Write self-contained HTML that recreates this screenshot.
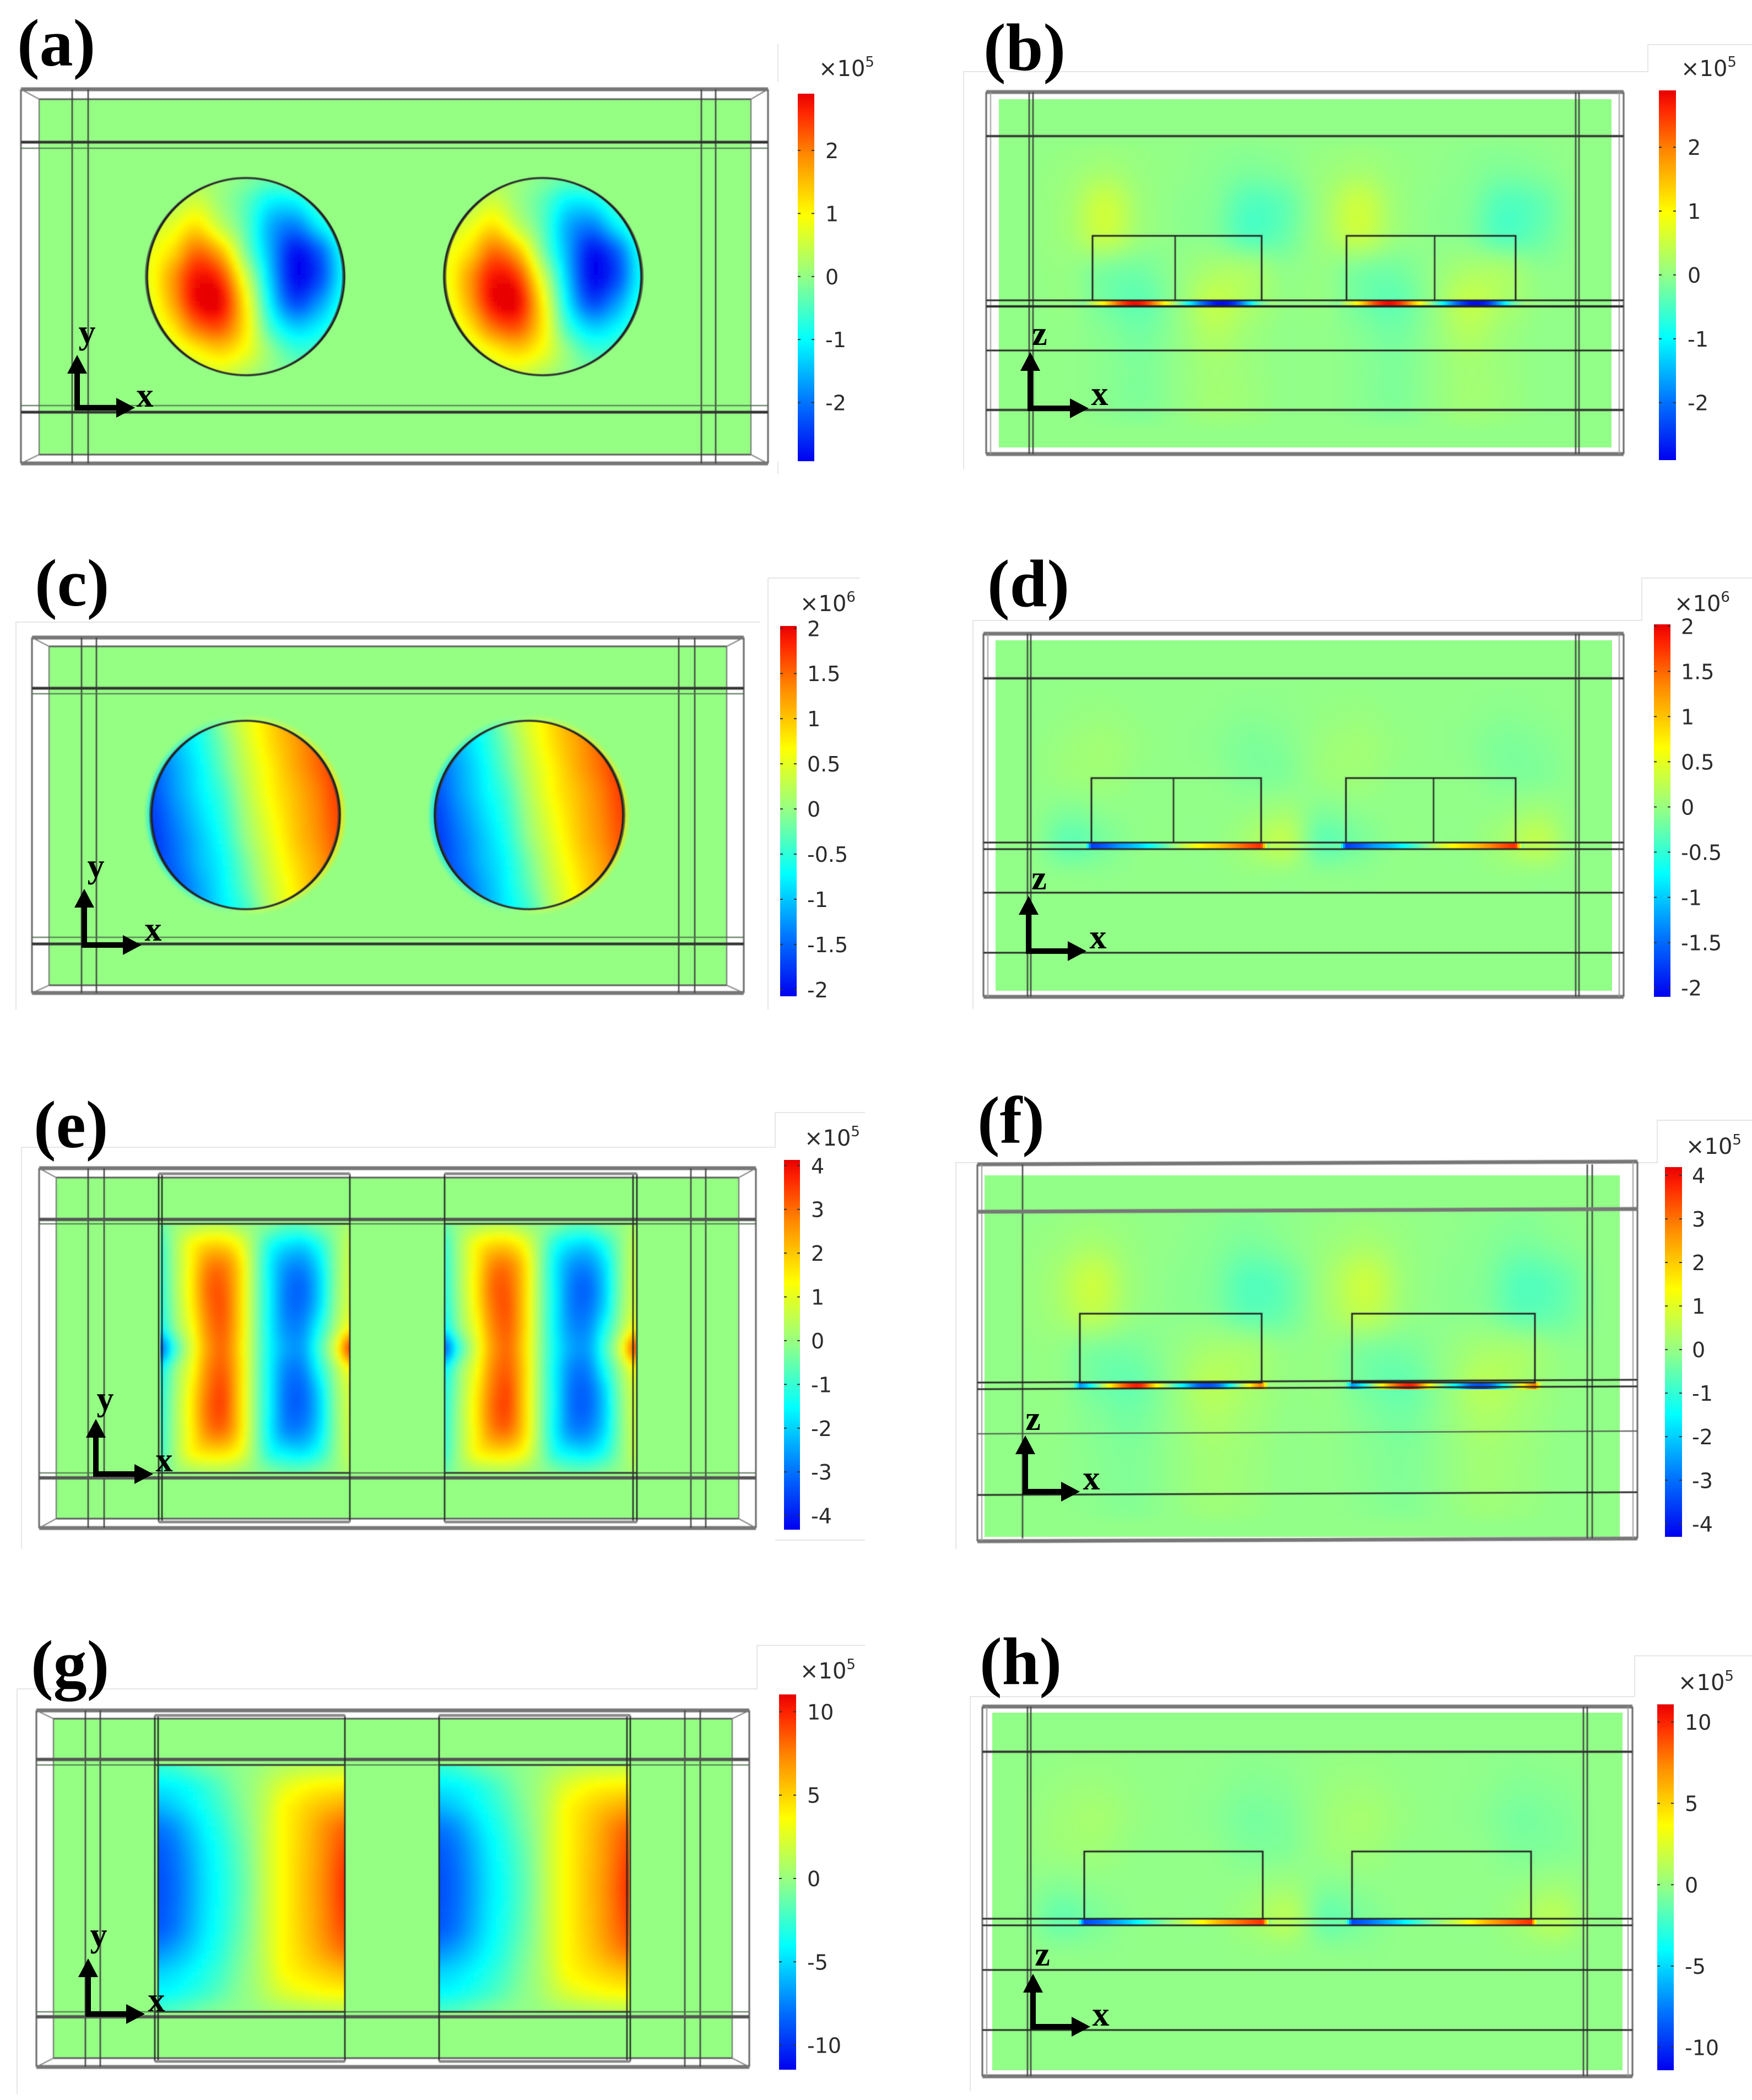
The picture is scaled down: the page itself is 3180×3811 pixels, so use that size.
<!DOCTYPE html>
<html lang="en">
<head>
<meta charset="utf-8">
<title>Field distribution panels (a)–(h)</title>
<style>
  html, body { margin: 0; padding: 0; background: #ffffff; }
  #stage { display: block; width: 3180px; height: 3811px; }
  .tick-label { font-family: "DejaVu Sans", "Liberation Sans", sans-serif; font-size: 38px; fill: #2b2b2b; }
  .exp-label { font-family: "DejaVu Sans", "Liberation Sans", sans-serif; font-size: 40px; fill: #2b2b2b; }
  .panel-label { font-family: "Liberation Serif", serif; font-weight: 700; font-size: 122px; fill: #000; }
  .axis-label { font-family: "Liberation Serif", serif; font-weight: 700; font-size: 62px; fill: #000; text-anchor: middle; }
</style>
</head>
<body>
<svg id="stage" xmlns="http://www.w3.org/2000/svg" width="3180" height="3811" viewBox="0 0 3180 3811">
  <defs>
    <filter id="soft4" x="-5%" y="-5%" width="110%" height="110%"><feGaussianBlur stdDeviation="4"/></filter>
    <filter id="soft8" x="-5%" y="-5%" width="110%" height="110%"><feGaussianBlur stdDeviation="8"/></filter>
    <filter id="wire-soft" filterUnits="userSpaceOnUse" x="0" y="0" width="3180" height="3811"><feGaussianBlur stdDeviation="0.8"/></filter>
    <filter id="halo-blur" x="-15%" y="-15%" width="130%" height="130%"><feGaussianBlur stdDeviation="4"/></filter>
    <linearGradient id="halo-gradient" x1="0" y1="0" x2="1" y2="0">
      <stop offset="0" stop-color="#00e8ff"/>
      <stop offset="0.3" stop-color="#60ffc0"/>
      <stop offset="0.55" stop-color="#c0ff60"/>
      <stop offset="1" stop-color="#ffe000"/>
    </linearGradient>
  </defs>
</svg>
<script>
// Colour scale: position on the colour bar (-1..1) and colour
const colorPositions = [-1, -0.67, -0.34, 0, 0.34, 0.67, 0.9, 1];
const colorValues = ['#0000f0', '#0078ff', '#00ffff', '#92ff88', '#ffff00', '#ff8800', '#ff2400', '#e80000'];

// Colour bar tick values
const ticksA = [2, 1, 0, -1, -2];
const ticksB = [2, 1, 0, -1, -2];
const ticksC = [2, 1.5, 1, 0.5, 0, -0.5, -1, -1.5, -2];
const ticksD = [2, 1.5, 1, 0.5, 0, -0.5, -1, -1.5, -2];
const ticksE = [4, 3, 2, 1, 0, -1, -2, -3, -4];
const ticksF = [4, 3, 2, 1, 0, -1, -2, -3, -4];
const ticksG = [10, 5, 0, -5, -10];
const ticksH = [10, 5, 0, -5, -10];

// Disc field values: rows top to bottom, columns left to right, across the disc
const fieldDiscA = [
  [0, 0, 0.2, 0.1, -0.1, -0.3, -0.2, 0, 0],
  [0.2, 0.3, 0.6, 0.1, -0.4, -1.1, -1.1, -0.5, -0.1],
  [0.5, 0.8, 1.3, 0.5, -0.4, -1.6, -2.0, -1.2, -0.5],
  [0.8, 1.3, 2.2, 1.6, -0.1, -1.6, -2.8, -2.2, -0.9],
  [0.8, 1.8, 2.8, 2.5, 0.6, -1.4, -2.9, -2.4, -1.0],
  [0.7, 1.7, 2.9, 2.9, 1.1, -1.1, -2.4, -1.8, -0.8],
  [0.5, 1.2, 2.2, 2.4, 1.2, -0.6, -1.4, -1.1, -0.5],
  [0.3, 0.6, 1.1, 1.4, 0.9, 0, -0.6, -0.5, -0.2],
  [0, 0.2, 0.5, 0.6, 0.3, 0, -0.1, 0, 0]
];
const fieldDiscC = [
  [-1.4, -1.0, -0.6, 0, 0.5, 0.9, 1.3, 1.6, 1.8],
  [-1.45, -1.05, -0.65, -0.15, 0.4, 0.85, 1.2, 1.55, 1.8],
  [-1.55, -1.15, -0.75, -0.25, 0.3, 0.75, 1.15, 1.5, 1.8],
  [-1.6, -1.2, -0.8, -0.4, 0.2, 0.7, 1.05, 1.4, 1.75],
  [-1.7, -1.3, -0.9, -0.5, 0.1, 0.6, 1.0, 1.35, 1.7],
  [-1.75, -1.4, -1.0, -0.6, 0, 0.5, 0.95, 1.3, 1.65],
  [-1.75, -1.45, -1.05, -0.7, -0.15, 0.4, 0.85, 1.2, 1.6],
  [-1.75, -1.55, -1.15, -0.75, -0.25, 0.3, 0.75, 1.15, 1.5],
  [-1.75, -1.6, -1.2, -0.8, -0.4, 0.2, 0.7, 1.05, 1.4]
];

// Rectangular patch field values: rows top to bottom, columns left to right
const fieldPatchE = [
  [-0.4, 0.1, 0.3, 0.5, 0.5, 0.2, 0, -0.2, -0.5, -0.5, -0.2, 0, 0.3],
  [-0.8, 0.3, 1.4, 1.9, 1.9, 1.3, 0, -1.2, -1.7, -1.8, -1.2, -0.2, 0.6],
  [-0.9, 0.3, 1.6, 2.8, 2.9, 1.9, 0, -1.6, -2.5, -2.6, -1.8, -0.3, 0.7],
  [-1.0, 0.3, 1.7, 3.1, 3.2, 2.0, 0, -1.6, -2.8, -3.0, -2.0, -0.3, 0.8],
  [-1.1, 0.2, 1.6, 3.0, 3.3, 2.0, 0, -1.6, -2.8, -2.9, -1.9, -0.2, 0.9],
  [-1.5, 0, 1.3, 2.8, 3.2, 2.0, 0, -1.6, -2.6, -2.6, -1.4, 0.1, 1.5],
  [-3.0, -0.8, 1.0, 2.6, 3.1, 1.9, 0, -1.5, -2.4, -2.4, -1.0, 0.8, 3.5],
  [-1.5, 0, 1.3, 2.8, 3.2, 2.0, 0, -1.6, -2.7, -2.7, -1.4, 0.1, 1.5],
  [-1.1, 0.2, 1.6, 3.0, 3.4, 2.0, 0, -1.6, -2.9, -3.0, -1.9, -0.2, 0.9],
  [-1.0, 0.3, 1.7, 3.1, 3.4, 2.0, 0, -1.6, -2.9, -3.0, -2.0, -0.3, 0.8],
  [-0.9, 0.3, 1.6, 2.8, 3.0, 1.9, 0, -1.6, -2.6, -2.6, -1.8, -0.3, 0.7],
  [-0.8, 0.3, 1.4, 1.8, 1.8, 1.3, 0, -1.2, -1.6, -1.7, -1.2, -0.2, 0.6],
  [-0.4, 0.1, 0.3, 0.4, 0.4, 0.2, 0, -0.2, -0.4, -0.4, -0.2, 0, 0.3]
];
const fieldPatchG = [
  [-2.5, -2.2, -1.6, -1.0, -0.6, -0.2, 0.1, 0.6, 1.0, 1.3, 1.5, 1.6, 1.7],
  [-4.2, -4.0, -3.4, -2.6, -1.6, -0.5, 0.3, 1.4, 2.6, 3.4, 3.9, 4.1, 4.3],
  [-5.8, -5.2, -4.3, -3.3, -2.2, -0.9, 0.3, 1.8, 3.7, 4.6, 5.4, 6.0, 6.5],
  [-7.5, -6.8, -5.4, -4.0, -2.8, -1.3, 0.1, 2.0, 3.8, 5.0, 6.2, 7.5, 8.4],
  [-8.4, -7.6, -6.1, -4.5, -3.2, -1.7, -0.1, 2.0, 3.8, 5.1, 6.4, 7.9, 9.1],
  [-8.7, -7.9, -6.4, -4.7, -3.4, -1.9, -0.2, 2.0, 3.8, 5.2, 6.5, 8.1, 9.6],
  [-8.8, -8.0, -6.5, -4.8, -3.5, -2.0, -0.3, 2.0, 3.8, 5.2, 6.6, 8.2, 9.8],
  [-8.7, -7.9, -6.4, -4.7, -3.4, -1.9, -0.2, 2.0, 3.8, 5.2, 6.5, 8.1, 9.6],
  [-8.4, -7.6, -6.1, -4.5, -3.2, -1.7, -0.1, 2.0, 3.8, 5.1, 6.4, 7.9, 9.1],
  [-7.0, -6.3, -5.2, -4.0, -2.8, -1.3, 0.1, 2.0, 3.8, 4.9, 6.0, 7.2, 8.2],
  [-5.2, -4.8, -4.1, -3.2, -2.2, -0.9, 0.3, 1.8, 3.6, 4.4, 5.0, 5.6, 6.1],
  [-3.9, -3.7, -3.1, -2.4, -1.5, -0.5, 0.3, 1.4, 2.5, 3.2, 3.6, 3.9, 4.1],
  [-2.0, -1.8, -1.3, -0.8, -0.4, -0.1, 0.1, 0.5, 0.8, 1.0, 1.2, 1.4, 1.5]
];

// Field along the thin interface under each block (left to right)
const stripB = [0.4, 1.3, 2.4, 2.9, 2.4, 1.2, 0, -1.2, -2.3, -2.9, -2.6, -1.4, -0.2];
const stripD = [-1.7, -1.5, -1.2, -1.0, -0.7, -0.3, 0.1, 0.5, 0.8, 1.0, 1.3, 1.6, 1.8];
const stripF = [-2.5, -0.8, 1.5, 3.3, 3.8, 1.6, -0.3, -1.8, -3.2, -3.0, -1.2, 1.0, 3.0];
const stripH = [-9, -8, -6.5, -5, -3, -1, 0.5, 2, 4, 6, 7.5, 8.8, 9.8];

// Weak field surrounding each block: rows from above the block to below the interface
const haloB = [
  [0, 0.02, 0.05, 0.02, 0, -0.03, -0.05, -0.02, 0],
  [0.02, 0.08, 0.18, 0.06, 0, -0.06, -0.15, -0.1, 0],
  [0.03, 0.15, 0.55, 0.12, -0.03, -0.1, -0.45, -0.35, -0.03],
  [0.03, 0.15, 0.5, 0.1, -0.03, -0.1, -0.45, -0.3, -0.03],
  [0.02, 0.03, -0.15, -0.2, 0, 0.2, 0.2, -0.03, 0],
  [0, 0.03, -0.22, -0.35, 0, 0.45, 0.25, 0.03, 0],
  [0, 0, -0.1, -0.22, 0, 0.3, 0.12, 0, 0],
  [0, 0, -0.06, -0.14, 0, 0.16, 0.08, 0, 0],
  [0, 0, -0.06, -0.14, 0, 0.16, 0.1, 0, 0],
  [0, 0, -0.03, -0.07, 0, 0.08, 0.05, 0, 0]
];
const haloD = [
  [0, 0.01, 0.01, 0, 0, 0, -0.01, -0.01, 0],
  [0, 0.02, 0.04, 0.01, 0, -0.01, -0.04, -0.02, 0],
  [0.01, 0.06, 0.1, 0.03, 0, -0.03, -0.1, -0.07, -0.01],
  [0.01, 0.06, 0.08, 0.01, 0, -0.01, -0.08, -0.08, -0.01],
  [0, -0.08, -0.02, 0, 0, 0, 0.02, 0.1, 0],
  [0, -0.25, -0.12, 0, 0, 0, 0.12, 0.3, 0],
  [0, -0.02, -0.02, 0, 0, 0, 0.02, 0.02, 0],
  [0, 0, 0, 0, 0, 0, 0, 0, 0],
  [0, 0, 0, 0, 0, 0, 0, 0, 0],
  [0, 0, 0, 0, 0, 0, 0, 0, 0]
];
const haloF = [
  [0, 0.03, 0.08, 0.03, 0, -0.05, -0.1, -0.04, 0],
  [0.03, 0.12, 0.28, 0.08, -0.02, -0.1, -0.25, -0.12, 0],
  [0.05, 0.25, 0.75, 0.15, -0.05, -0.15, -0.6, -0.45, -0.03],
  [0.05, 0.22, 0.6, 0.1, -0.05, -0.12, -0.5, -0.4, -0.03],
  [0.02, 0.04, -0.2, -0.25, 0, 0.25, 0.25, 0, 0],
  [0, 0.03, -0.3, -0.45, 0, 0.5, 0.3, 0.05, 0],
  [0, 0.02, -0.15, -0.3, 0, 0.35, 0.2, 0.02, 0],
  [0, 0, -0.1, -0.18, 0, 0.22, 0.14, 0, 0],
  [0, 0, -0.08, -0.16, 0, 0.2, 0.12, 0, 0],
  [0, 0, -0.05, -0.1, 0, 0.12, 0.08, 0, 0]
];
const haloH = [
  [0, 0.05, 0.1, 0.05, 0, -0.05, -0.1, -0.05, 0],
  [0.05, 0.25, 0.35, 0.1, 0, -0.1, -0.35, -0.25, -0.05],
  [0.1, 0.45, 0.7, 0.2, 0, -0.2, -0.7, -0.5, -0.1],
  [0.1, 0.35, 0.45, 0.05, 0, -0.05, -0.45, -0.4, -0.1],
  [0, -0.35, -0.08, 0, 0, 0, 0.08, 0.45, 0],
  [0, -1.2, -0.5, 0, 0, 0, 0.5, 1.4, 0],
  [0, -0.1, -0.1, 0, 0, 0, 0.1, 0.15, 0],
  [0, 0, 0, 0, 0, 0, 0, 0, 0],
  [0, 0, 0, 0, 0, 0, 0, 0, 0],
  [0, 0, 0, 0, 0, 0, 0, 0, 0]
];

// Layout of each panel (page geometry only; field values live in the arrays above)
const panels = [
  { id: 'a', label: '(a)', lx: 31, ly: 119, limit: 3, outer: [38, 162, 1394, 841], green: [71, 180, 1363, 825],
    vs: [131, 160, 1273, 1299], hs: [[258, 5, '#333'], [269, 2, '#4a6a4a'], [736, 2, '#4a6a4a'], [748, 5, '#333']], diag: true,
    discs: [[446, 502], [985, 502]], discR: 179, discField: fieldDiscA,
    bar: { x: 1448, w: 30, top: 170, bot: 837, hi: 2.9, lo: -2.93, ticks: ticksA, lx: 1498, ex: 1486, ey: 124, exp: '5' },
    triad: { x: 140, y: 740, up: 644, right: 245, vn: 'y', vx: 158, vy: 615, hx: 263, hy: 724 },
    frame: 'M 1412 80 L 1412 148 M 1412 838 L 1412 860' },
  { id: 'b', label: '(b)', lx: 1785, ly: 127, limit: 3, outer: [1790, 167, 2947, 824], green: [1813, 180, 2925, 812],
    vs: [1868, 1875, 2860, 2866], hs: [[247, 4, '#333'], [545, 3, '#222'], [556, 4, '#222'], [636, 3, '#222'], [744, 4, '#333']], diag: false,
    blocks: [[1983, 2290, 2133], [2444, 2751, 2604]], blockTop: 428, blockBot: 545, stripTop: 545, stripBot: 556, strip: stripB, halo: haloB,
    bar: { x: 3011, w: 31, top: 164, bot: 835, hi: 2.89, lo: -2.9, ticks: ticksB, lx: 3063, ex: 3051, ey: 124, exp: '5' },
    triad: { x: 1870, y: 741, up: 639, right: 1976, vn: 'z', vx: 1887, vy: 612, hx: 1996, hy: 721 },
    frame: 'M 1749 851 L 1749 130 L 2991 130 L 2991 81 L 3180 81' },
  { id: 'c', label: '(c)', lx: 63, ly: 1099, limit: 2.05, outer: [58, 1157, 1350, 1802], green: [89, 1173, 1319, 1788],
    vs: [148, 175, 1232, 1261], hs: [[1249, 5, '#333'], [1259, 2, '#4a6a4a'], [1701, 2, '#4a6a4a'], [1713, 5, '#333']], diag: true,
    discs: [[446, 1479], [960, 1479]], discR: 171, discField: fieldDiscC, glow: true,
    bar: { x: 1416, w: 30, top: 1136, bot: 1808, hi: 2.026, lo: -2.074, ticks: ticksC, lx: 1465, ex: 1452, ey: 1095, exp: '6' },
    triad: { x: 153, y: 1715, up: 1613, right: 257, vn: 'y', vx: 174, vy: 1584, hx: 278, hy: 1693 },
    frame: 'M 29 1832 L 29 1129 L 1380 1129 M 1394 1049 L 1394 1832 M 1394 1049 L 1560 1049' },
  { id: 'd', label: '(d)', lx: 1792, ly: 1100, limit: 2.05, outer: [1785, 1150, 2947, 1809], green: [1807, 1162, 2926, 1798],
    vs: [1865, 1871, 2860, 2866], hs: [[1231, 4, '#333'], [1529, 3, '#222'], [1541, 3, '#222'], [1620, 3, '#222'], [1729, 3, '#222']], diag: false,
    blocks: [[1981, 2289, 2130], [2443, 2751, 2602]], blockTop: 1412, blockBot: 1529, stripTop: 1529, stripBot: 1541, strip: stripD, halo: haloD,
    bar: { x: 3002, w: 30, top: 1133, bot: 1809, hi: 2.02, lo: -2.1, ticks: ticksD, lx: 3051, ex: 3039, ey: 1095, exp: '6' },
    triad: { x: 1867, y: 1726, up: 1626, right: 1972, vn: 'z', vx: 1886, vy: 1600, hx: 1993, hy: 1707 },
    frame: 'M 1766 1831 L 1766 1126 L 2980 1126 L 2980 1049 L 3180 1049' },
  { id: 'e', label: '(e)', lx: 61, ly: 2082, limit: 4.25, outer: [71, 2120, 1372, 2773], green: [102, 2137, 1341, 2756],
    vs: [160, 189, 1254, 1281], hs: [[2213, 6, '#555'], [2221, 2, '#4a6a4a'], [2673, 2, '#4a6a4a'], [2682, 6, '#555']], diag: true,
    patches: [[291, 635], [807, 1154]], patchTop: 2221, patchBot: 2673, patchField: fieldPatchE,
    patchLines: [[288, 294, 635], [807, 1149, 1156]], capTop: 2130, capBot: 2762,
    bar: { x: 1423, w: 29, top: 2105, bot: 2776, hi: 4.13, lo: -4.32, ticks: ticksE, lx: 1472, ex: 1460, ey: 2065, exp: '5' },
    triad: { x: 174, y: 2675, up: 2575, right: 278, vn: 'y', vx: 191, vy: 2551, hx: 298, hy: 2656 },
    frame: 'M 39 2811 L 39 2082 L 1407 2082 L 1407 2019 L 1570 2019 M 1407 2795 L 1570 2795' },
  { id: 'f', label: '(f)', lx: 1774, ly: 2074, limit: 4.25, outer: [1774, 2113, 2972, 2797], green: [1787, 2133, 2940, 2789], tilt: -5,
    vs: [1856, 2881, 2890], hs: [[2199, 7, '#777'], [2509, 3, '#222'], [2521, 3, '#222'], [2602, 2, '#444'], [2713, 3, '#222']], diag: false,
    blocks: [[1960, 2290, 0], [2454, 2786, 0]], blockTop: 2384, blockBot: 2509, stripTop: 2509, stripBot: 2521, strip: stripF, halo: haloF,
    bar: { x: 3022, w: 31, top: 2118, bot: 2789, hi: 4.19, lo: -4.3, ticks: ticksF, lx: 3071, ex: 3060, ey: 2080, exp: '5' },
    triad: { x: 1861, y: 2707, up: 2605, right: 1960, vn: 'z', vx: 1875, vy: 2581, hx: 1981, hy: 2689 },
    frame: 'M 1735 2811 L 1735 2110 L 3008 2110 L 3008 2033 L 3180 2033' },
  { id: 'g', label: '(g)', lx: 56, ly: 3061, limit: 11.3, outer: [66, 3104, 1360, 3751], green: [97, 3119, 1329, 3735],
    vs: [155, 182, 1243, 1271], hs: [[3193, 6, '#555'], [3203, 2, '#4a6a4a'], [3651, 2, '#4a6a4a'], [3660, 6, '#555']], diag: true,
    patches: [[286, 626], [797, 1142]], patchTop: 3203, patchBot: 3651, patchField: fieldPatchG,
    patchLines: [[281, 287, 626], [797, 1138, 1144]], capTop: 3113, capBot: 3741,
    bar: { x: 1414, w: 31, top: 3075, bot: 3756, hi: 11.04, lo: -11.47, ticks: ticksG, lx: 1465, ex: 1452, ey: 3032, exp: '5' },
    triad: { x: 160, y: 3655, up: 3554, right: 263, vn: 'y', vx: 179, vy: 3524, hx: 284, hy: 3636 },
    frame: 'M 31 3800 L 31 3065 L 1374 3065 L 1374 2986 L 1570 2986' },
  { id: 'h', label: '(h)', lx: 1778, ly: 3056, limit: 11.3, outer: [1783, 3097, 2963, 3768], green: [1801, 3108, 2945, 3757],
    vs: [1865, 1871, 2874, 2881], hs: [[3179, 4, '#333'], [3482, 3, '#222'], [3494, 3, '#222'], [3575, 3, '#222'], [3684, 3, '#222']], diag: false,
    blocks: [[1968, 2292, 0], [2454, 2779, 0]], blockTop: 3360, blockBot: 3482, stripTop: 3482, stripBot: 3494, strip: stripH, halo: haloH,
    bar: { x: 3008, w: 30, top: 3093, bot: 3757, hi: 11.08, lo: -11.4, ticks: ticksH, lx: 3058, ex: 3046, ey: 3053, exp: '5' },
    triad: { x: 1875, y: 3678, up: 3582, right: 1979, vn: 'z', vx: 1892, vy: 3553, hx: 1998, hy: 3662 },
    frame: 'M 1761 3795 L 1761 3079 L 2967 3079 L 2967 3005 L 3180 3005' }
];

const SVGNS = 'http://www.w3.org/2000/svg';
const stage = document.getElementById('stage');
const defs = stage.querySelector('defs');

function hexToRgb(h) {
  return [parseInt(h.slice(1, 3), 16), parseInt(h.slice(3, 5), 16), parseInt(h.slice(5, 7), 16)];
}
const colorRgb = colorValues.map(hexToRgb);

function fieldColor(t) {
  const c = Math.max(-1, Math.min(1, t));
  let i = 0;
  while (i < colorPositions.length - 2 && c > colorPositions[i + 1]) i++;
  const f = (c - colorPositions[i]) / (colorPositions[i + 1] - colorPositions[i]);
  const a = colorRgb[i], b = colorRgb[i + 1];
  return 'rgb(' + Math.round(a[0] + (b[0] - a[0]) * f) + ',' + Math.round(a[1] + (b[1] - a[1]) * f) + ',' + Math.round(a[2] + (b[2] - a[2]) * f) + ')';
}

function spline(p0, p1, p2, p3, t) {
  return 0.5 * (2 * p1 + (p2 - p0) * t + (2 * p0 - 5 * p1 + 4 * p2 - p3) * t * t + (3 * p1 - p0 - 3 * p2 + p3) * t * t * t);
}
function sampleLine(arr, c) {
  const n = arr.length - 1;
  const cc = Math.max(0, Math.min(n, c));
  const i = Math.min(n - 1, Math.floor(cc));
  return spline(arr[Math.max(0, i - 1)], arr[i], arr[i + 1], arr[Math.min(n, i + 2)], cc - i);
}
function sampleGrid(grid, cx, cy) {
  const n = grid.length - 1;
  const cc = Math.max(0, Math.min(n, cy));
  const j = Math.min(n - 1, Math.floor(cc));
  const v0 = sampleLine(grid[Math.max(0, j - 1)], cx);
  const v1 = sampleLine(grid[j], cx);
  const v2 = sampleLine(grid[j + 1], cx);
  const v3 = sampleLine(grid[Math.min(n, j + 2)], cx);
  return spline(v0, v1, v2, v3, cc - j);
}

function el(tag, attrs, parent) {
  const e = document.createElementNS(SVGNS, tag);
  for (const k in attrs) e.setAttribute(k, attrs[k]);
  if (parent) parent.appendChild(e);
  return e;
}

function addCell(parent, x, y, w, h, fill) {
  const cell = document.createElementNS(SVGNS, 'rect');
  cell.setAttribute('x', x);
  cell.setAttribute('y', y);
  cell.setAttribute('width', w);
  cell.setAttribute('height', h);
  cell.setAttribute('fill', fill);
  
  
  parent.appendChild(cell);
}

function drawLine(parent, name, x1, y1, x2, y2, stroke, width) {
  const line = el('line', { x1: x1, y1: y1, x2: x2, y2: y2, stroke: stroke, 'stroke-width': width }, parent);
  
  
  return line;
}

function drawPanel(p) {
  const g = el('g', {}, stage);
  
  

  const frame = el('path', { d: p.frame, fill: 'none', stroke: '#e6e6e6', 'stroke-width': 2 }, g);
  
  

  const [gx0, gy0, gx1, gy1] = p.green;
  const greenRect = el('rect', { x: gx0, y: gy0, width: gx1 - gx0, height: gy1 - gy0, fill: fieldColor(0.01) }, g);
  
  

  const clipId = 'clip-green-' + p.id;
  const clip = el('clipPath', { id: clipId }, defs);
  el('rect', { x: gx0, y: gy0, width: gx1 - gx0, height: gy1 - gy0 }, clip);

  if (p.halo) drawHalo(p, g, clipId);
  if (p.discs) p.discs.forEach((c, i) => drawDisc(p, g, c, i));
  if (p.patches) p.patches.forEach((r, i) => drawPatch(p, g, r, i));
  if (p.strip) p.blocks.forEach((b) => drawStrip(p, g, b));
  drawWire(p, g);
  drawBar(p, g);
  drawTriad(p, g);

  const label = el('text', { x: p.lx, y: p.ly, class: 'panel-label' }, g);
  label.textContent = p.label;
  
  
}

function drawHalo(p, g, clipId) {
  const clipG = el('g', { 'clip-path': 'url(#' + clipId + ')' }, g);
  const soft = el('g', { filter: 'url(#soft8)' }, clipG);
  
  
  const [gx0, gy0, gx1, gy1] = p.green;
  const h = p.blockBot - p.blockTop;
  const step = 16;
  const frag = document.createDocumentFragment();
  for (let y = gy0 - step; y < gy1 + step; y += step) {
    for (let x = gx0 - step; x < gx1 + step; x += step) {
      let v = 0;
      p.blocks.forEach((b) => {
        const u = (x + step / 2 - b[0]) / (b[1] - b[0]);
        const r = (y + step / 2 - p.blockTop) / h;
        if (u >= -0.35 && u <= 1.35 && r >= -1.5 && r <= 3) {
          v += sampleGrid(p.halo, (u + 0.35) / 0.2125, (r + 1.5) / 0.5);
        }
      });
      addCell(frag, x, y, step, step, fieldColor(v / p.limit));
    }
  }
  soft.appendChild(frag);
}

function drawDisc(p, g, c, i) {
  const [cx, cy] = c;
  const R = p.discR;
  if (p.glow) {
    const glow = el('circle', { cx: cx, cy: cy, r: R + 3, fill: 'none', stroke: 'url(#halo-gradient)', 'stroke-width': 9, filter: 'url(#halo-blur)', opacity: 0.85 }, g);
    
    
  }
  const clipId = 'clip-disc-' + p.id + i;
  const clip = el('clipPath', { id: clipId }, defs);
  el('circle', { cx: cx, cy: cy, r: R }, clip);
  const clipG = el('g', { 'clip-path': 'url(#' + clipId + ')' }, g);
  
  
  const soft = el('g', { filter: 'url(#soft4)' }, clipG);
  const step = 8;
  const nCols = p.discField[0].length - 1, nRows = p.discField.length - 1;
  const frag = document.createDocumentFragment();
  for (let y = cy - R - step * 2; y < cy + R + step * 2; y += step) {
    for (let x = cx - R - step * 2; x < cx + R + step * 2; x += step) {
      const lx = (x + step / 2 - cx) / R, ly = (y + step / 2 - cy) / R;
      const v = sampleGrid(p.discField, (lx + 1) / 2 * nCols, (ly + 1) / 2 * nRows);
      addCell(frag, x, y, step, step, fieldColor(v / p.limit));
    }
  }
  soft.appendChild(frag);
}

function drawPatch(p, g, r, i) {
  const [x0, x1] = r;
  const clipId = 'clip-patch-' + p.id + i;
  const clip = el('clipPath', { id: clipId }, defs);
  el('rect', { x: x0, y: p.patchTop, width: x1 - x0, height: p.patchBot - p.patchTop }, clip);
  const clipG = el('g', { 'clip-path': 'url(#' + clipId + ')' }, g);
  
  
  const soft = el('g', { filter: 'url(#soft4)' }, clipG);
  const step = 8;
  const nCols = p.patchField[0].length - 1, nRows = p.patchField.length - 1;
  const frag = document.createDocumentFragment();
  for (let y = p.patchTop - step * 2; y < p.patchBot + step * 2; y += step) {
    for (let x = x0 - step * 2; x < x1 + step * 2; x += step) {
      const u = (x + step / 2 - x0) / (x1 - x0), w = (y + step / 2 - p.patchTop) / (p.patchBot - p.patchTop);
      const v = sampleGrid(p.patchField, u * nCols, w * nRows);
      addCell(frag, x, y, step, step, fieldColor(v / p.limit));
    }
  }
  soft.appendChild(frag);
}

function drawStrip(p, g, b) {
  const group = el('g', {}, g);
  
  
  const span = b[1] - b[0];
  const step = 4;
  const pad = 0.04;
  const n = p.strip.length - 1;
  for (let x = Math.floor(b[0] - span * pad); x < b[1] + span * pad; x += step) {
    const u = (x + step / 2 - b[0]) / span;
    let v = sampleLine(p.strip, u * n);
    if (u < 0) v *= Math.max(0, 1 + u / pad);
    if (u > 1) v *= Math.max(0, 1 - (u - 1) / pad);
    addCell(group, x, p.stripTop, step, p.stripBot - p.stripTop, fieldColor(v / p.limit));
  }
}

function drawWire(p, g) {
  const w = el('g', { filter: 'url(#wire-soft)' }, g);
  
  
  const [ox0, oy0, ox1, oy1] = p.outer;
  const [gx0, gy0, gx1, gy1] = p.green;
  const tilt = p.tilt || 0;

  drawLine(w, 'frame-top', ox0, oy0, ox1, oy0 + tilt, '#777', 7);
  drawLine(w, 'frame-bottom', ox0, oy1, ox1, oy1 + tilt, '#777', 7);
  drawLine(w, 'frame-left', ox0, oy0, ox0, oy1, '#666', 3);
  drawLine(w, 'frame-right', ox1, oy0 + tilt, ox1, oy1 + tilt, '#666', 3);

  if (p.diag) {
    drawLine(w, 'frame-inner-top', gx0, gy0, gx1, gy0, '#5c5c5c', 3);
    drawLine(w, 'frame-inner-bottom', gx0, gy1, gx1, gy1, '#5c5c5c', 3);
    drawLine(w, 'frame-inner-left', gx0, gy0, gx0, gy1, '#6a6a6a', 2);
    drawLine(w, 'frame-inner-right', gx1, gy0, gx1, gy1, '#6a6a6a', 2);
    drawLine(w, 'frame-corner', ox0, oy0, gx0, gy0, '#777', 2);
    drawLine(w, 'frame-corner', ox1, oy0, gx1, gy0, '#777', 2);
    drawLine(w, 'frame-corner', ox0, oy1, gx0, gy1, '#777', 2);
    drawLine(w, 'frame-corner', ox1, oy1, gx1, gy1, '#777', 2);
  } else {
    drawLine(w, 'frame-inner-left', ox0 + 8, oy0, ox0 + 8, oy1, '#999', 2);
    drawLine(w, 'frame-inner-right', ox1 - 8, oy0 + tilt, ox1 - 8, oy1 + tilt, '#999', 2);
  }

  p.vs.forEach((x) => {
    drawLine(w, 'vertical-layer-line', x, oy0, x, oy1 + tilt, '#3c3c3c', 2.5);
  });
  p.hs.forEach((h) => {
    drawLine(w, 'horizontal-layer-line', ox0, h[0], ox1, h[0] + tilt, h[2], h[1]);
  });

  if (p.discs) {
    p.discs.forEach((c, i) => {
      const ring = el('circle', { cx: c[0], cy: c[1], r: p.discR, fill: 'none', stroke: '#1c1c1c', 'stroke-width': 3.5 }, w);
      
      
      const ring2 = el('circle', { cx: c[0] + (i ? 3 : -3), cy: c[1], r: p.discR, fill: 'none', stroke: '#3a3a3a', 'stroke-width': 1.5 }, w);
      
      
    });
  }
  if (p.blocks) {
    p.blocks.forEach((b) => {
      const r = el('rect', { x: b[0], y: p.blockTop, width: b[1] - b[0], height: p.blockBot - p.blockTop, fill: 'none', stroke: '#222', 'stroke-width': 3 }, w);
      
      
      if (b[2]) drawLine(w, 'block-divider', b[2], p.blockTop, b[2], p.blockBot, '#222', 2.5);
    });
  }
  if (p.patchLines) {
    p.patchLines.forEach((xs) => {
      xs.forEach((x) => {
        drawLine(w, 'patch-edge', x, p.capTop, x, p.capBot, '#1f1f1f', 2.5);
      });
      const a = xs[0], b = xs[xs.length - 1];
      drawLine(w, 'patch-cap-top', a, p.capTop, b, p.capTop, '#888', 5);
      drawLine(w, 'patch-cap-bottom', a, p.capBot, b, p.capBot, '#888', 5);
      drawLine(w, 'patch-band-top', a, p.patchTop, b, p.patchTop, '#333', 3);
      drawLine(w, 'patch-band-bottom', a, p.patchBot, b, p.patchBot, '#333', 3);
    });
  }
}

function drawBar(p, g) {
  const b = p.bar;
  const group = el('g', {}, g);
  
  

  const yOf = (v) => b.top + (b.hi - v) / (b.hi - b.lo) * (b.bot - b.top);

  const grad = el('linearGradient', { id: 'bar-gradient-' + p.id, x1: 0, y1: 0, x2: 0, y2: 1 }, defs);
  for (let i = colorPositions.length - 1; i >= 0; i--) {
    el('stop', { offset: 1 - (colorPositions[i] + 1) / 2, 'stop-color': colorValues[i] }, grad);
  }
  const rect = el('rect', { x: b.x, y: b.top, width: b.w, height: b.bot - b.top, fill: 'url(#bar-gradient-' + p.id + ')' }, group);
  
  

  b.ticks.forEach((t) => {
    const y = yOf(t);
    drawLine(group, 'colorbar-tick', b.x, y, b.x + 5, y, '#333', 2);
    drawLine(group, 'colorbar-tick', b.x + b.w - 5, y, b.x + b.w, y, '#333', 2);
    const label = el('text', { x: b.lx, y: y + 14, class: 'tick-label' }, group);
    label.textContent = String(t);
    
    
  });

  const exp = el('text', { x: b.ex, y: b.ey + 14, class: 'exp-label' }, group);
  
  
  exp.appendChild(document.createTextNode('×10'));
  const sup = el('tspan', { dy: -17, 'font-size': 26 }, exp);
  sup.textContent = b.exp;
}

function drawTriad(p, g) {
  const t = p.triad;
  const group = el('g', {}, g);
  
  
  const hl = 34, hw = 18;
  drawLine(group, 'vertical-axis-arrow', t.x, t.y + 5, t.x, t.up + hl - 2, '#000', 10);
  drawLine(group, 'x-axis-arrow', t.x - 5, t.y, t.right - hl + 2, t.y, '#000', 10);
  const h1 = el('polygon', { points: t.x + ',' + t.up + ' ' + (t.x - hw) + ',' + (t.up + hl) + ' ' + (t.x + hw) + ',' + (t.up + hl), fill: '#000' }, group);
  
  
  const h2 = el('polygon', { points: t.right + ',' + t.y + ' ' + (t.right - hl) + ',' + (t.y - hw) + ' ' + (t.right - hl) + ',' + (t.y + hw), fill: '#000' }, group);
  
  
  const vLabel = el('text', { x: t.vx, y: t.vy + (t.vn === 'y' ? 8 : 14), class: 'axis-label' }, group);
  vLabel.textContent = t.vn;
  
  
  const hLabel = el('text', { x: t.hx, y: t.hy + 14, class: 'axis-label' }, group);
  hLabel.textContent = 'x';
  
  
}

panels.forEach(drawPanel);
</script>
</body>
</html>
